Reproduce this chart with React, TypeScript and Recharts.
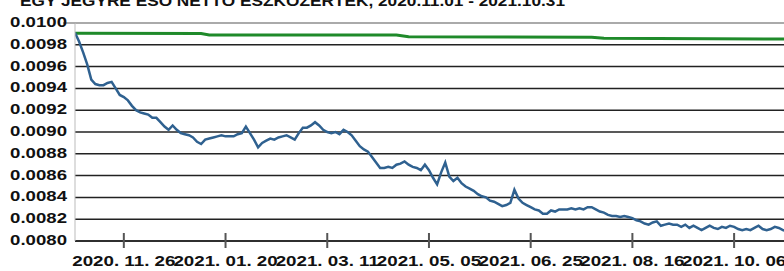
import React from 'react';
import { LineChart, Line, XAxis, YAxis, CartesianGrid, ReferenceLine } from 'recharts';

// blue series, one value per step on the x axis
const blueValues = [
  0.00991, 0.00983, 0.00973, 0.00962, 0.00948, 0.00944, 0.00943, 0.00943, 0.00945, 0.00946,
  0.0094, 0.00934, 0.00932, 0.00929, 0.00924, 0.0092, 0.00918, 0.00917, 0.00916, 0.00913,
  0.00913, 0.00909, 0.00905, 0.00902, 0.00906, 0.00902, 0.00899, 0.00898, 0.00897, 0.00895,
  0.00891, 0.00889, 0.00893, 0.00894, 0.00895, 0.00896, 0.00897, 0.00896, 0.00896, 0.00896,
  0.00898, 0.00899, 0.00905, 0.00899, 0.00893, 0.00886, 0.0089, 0.00892, 0.00894, 0.00893,
  0.00895, 0.00896, 0.00897, 0.00895, 0.00893, 0.00899, 0.00904, 0.00904, 0.00906, 0.00909,
  0.00906, 0.00902, 0.009, 0.00899, 0.009, 0.00898, 0.00902, 0.009, 0.00897, 0.00892,
  0.00887, 0.00884, 0.00882, 0.00877, 0.00872, 0.00867, 0.00867, 0.00868, 0.00867, 0.0087,
  0.00871, 0.00873, 0.0087, 0.00868, 0.00867, 0.00865, 0.0087, 0.00865, 0.00858, 0.00852,
  0.00863, 0.00872, 0.00859, 0.00855, 0.00858, 0.00853, 0.0085, 0.00848, 0.00846, 0.00843,
  0.00841, 0.0084, 0.00837, 0.00836, 0.00834, 0.00832, 0.00833, 0.00835, 0.00847, 0.00839,
  0.00835, 0.00833, 0.00831, 0.00829, 0.00828, 0.00825, 0.00825, 0.00828, 0.00827, 0.00829,
  0.00829, 0.00829, 0.0083, 0.00829, 0.0083, 0.00829, 0.00831, 0.00831, 0.00829, 0.00827,
  0.00826, 0.00824, 0.00823, 0.00823, 0.00822, 0.00823, 0.00822, 0.00821, 0.00819, 0.00818,
  0.00816, 0.00815, 0.00817, 0.00818, 0.00814, 0.00815, 0.00816, 0.00815, 0.00815, 0.00813,
  0.00815, 0.00812, 0.00814, 0.00812, 0.0081, 0.00812, 0.00814, 0.00812, 0.00811, 0.00813,
  0.00812, 0.00814, 0.00813, 0.00811, 0.0081, 0.00811, 0.0081, 0.00812, 0.00814, 0.00811,
  0.0081, 0.00811, 0.00813, 0.00812, 0.0081, 0.00809,
];

// green series: flat with small steps down
const greenSteps = [0, 31, 33, 79, 82, 127, 130, 175];
const greenValues = [0.009906, 0.009904, 0.00989, 0.00989, 0.009874, 0.00987, 0.00986, 0.009853];

const xTickSteps = [12, 37, 62, 87, 112, 137, 162];
const xTickLabels = [
  '2020. 11. 26',
  '2021. 01. 20',
  '2021. 03. 11',
  '2021. 05. 05',
  '2021. 06. 25',
  '2021. 08. 16',
  '2021. 10. 06',
];
const yTicks = [0.008, 0.0082, 0.0084, 0.0086, 0.0088, 0.009, 0.0092, 0.0094, 0.0096, 0.0098, 0.01];

const title = 'EGY JEGYRE ESŐ NETTÓ ESZKÖZÉRTÉK, 2020.11.01 - 2021.10.31';

const blueData = blueValues.map((v, i) => ({ i, v }));
const greenData = greenSteps.map((i, k) => ({ i, v: greenValues[k] }));

const font = 'Arial, "Liberation Sans", sans-serif';

function XTick(props: any) {
  const { x, y, payload } = props;
  const idx = xTickSteps.indexOf(payload.value);
  return (
    <g>
      <line x1={x} x2={x} y1={y - 8} y2={y + 7} stroke="#555" strokeWidth={2} />
      <text
        transform={`translate(${x},${y + 25}) scale(1.34,1)`}
        textAnchor="middle"
        fontFamily={font}
        fontWeight="bold"
        fontSize={14}
        fill="#111"
      >
        {xTickLabels[idx]}
      </text>
    </g>
  );
}

function YTick(props: any) {
  const { x, y, payload } = props;
  return (
    <g>
      {payload.value === 0.01 && (
        <line x1={x - 12} x2={x} y1={y} y2={y} stroke="#aaa" strokeWidth={2} />
      )}
      <text
        transform={`translate(${x - 8},${y + 4}) scale(1.33,1)`}
        textAnchor="end"
        fontFamily={font}
        fontWeight="bold"
        fontSize={14}
        fill="#111"
      >
        {payload.value.toFixed(4)}
      </text>
    </g>
  );
}

export default function App() {
  return (
    <div style={{ position: 'absolute', left: 0, top: 0, width: 784, height: 271, overflow: 'hidden', background: '#fff' }}>
      <LineChart width={787} height={271} margin={{ top: 23, right: 0, bottom: 0, left: 0 }}>
        <CartesianGrid vertical={false} stroke="#222" strokeWidth={1.5} />
        <XAxis
          type="number"
          dataKey="i"
          height={30}
          domain={[0, 175]}
          ticks={xTickSteps}
          interval={0}
          tickSize={0}
          tickMargin={0}
          tickLine={false}
          axisLine={{ stroke: '#222', strokeWidth: 1.5 }}
          tick={<XTick />}
          allowDataOverflow
        />
        <YAxis
          width={75}
          domain={[0.008, 0.01]}
          ticks={yTicks}
          interval={0}
          tickSize={0}
          tickMargin={0}
          tickLine={false}
          axisLine={{ stroke: '#bbb', strokeWidth: 1 }}
          tick={<YTick />}
          allowDataOverflow
        />
        <ReferenceLine y={0.01} stroke="#aaa" strokeWidth={2} />
        <Line
          data={greenData}
          dataKey="v"
          type="linear"
          stroke="#1f8a2a"
          strokeWidth={3}
          dot={false}
          isAnimationActive={false}
        />
        <Line
          data={blueData}
          dataKey="v"
          type="linear"
          stroke="#2f6190"
          strokeWidth={2.5}
          dot={false}
          isAnimationActive={false}
        />
      </LineChart>
      <svg width={784} height={20} style={{ position: 'absolute', left: 0, top: 0 }}>
        <text
          x={20}
          y={6}
          textLength={545}
          lengthAdjust="spacingAndGlyphs"
          fontFamily={font}
          fontWeight="bold"
          fontSize={15}
          fill="#111"
        >
          {title}
        </text>
      </svg>
    </div>
  );
}
